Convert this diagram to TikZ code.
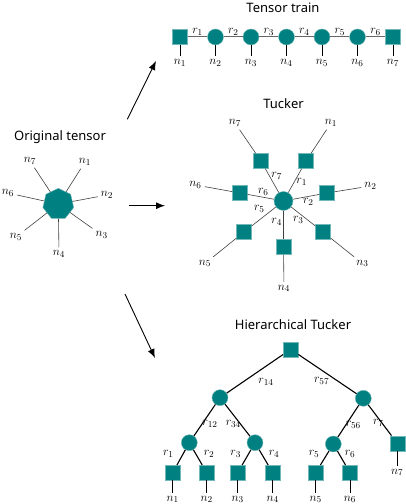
\documentclass[tikz,border=0pt]{standalone}
\usepackage{fontspec}
\setsansfont{Noto Sans}
\usetikzlibrary{arrows.meta,shapes.geometric}

\tikzset{
	ttl/.style={font=\sffamily\fontsize{13}{15}\selectfont, inner sep=0pt},
	lbl/.style={font=\fontsize{13}{15}\selectfont, inner sep=1pt},
	leglbl/.style={font=\fontsize{13}{15}\selectfont, inner sep=3pt},
	tsq/.style={shape=rectangle, fill=teal, draw=teal!55, line width=0.4pt, minimum size=15pt, inner sep=0pt},
	tcirc/.style={shape=circle, fill=teal, draw=teal!55, line width=0.4pt, minimum size=16pt, inner sep=0pt},
	bigcore/.style={shape=circle, fill=teal, draw=teal!55, line width=0.4pt, minimum size=19pt, inner sep=0pt},
	hept/.style={shape=regular polygon, regular polygon sides=7, fill=teal, draw=teal!55, line width=0.4pt, minimum size=31.6pt, inner sep=0pt},
	chain/.style={draw=black!60, line width=1pt},
	leg/.style={draw=black, line width=1pt},
	thinleg/.style={draw=black!75, line width=0.6pt},
	branch/.style={draw=black, line width=1.1pt},
	bigarrow/.style={draw=black, line width=0.9pt, -{Latex[length=9pt,width=7pt]}}
}

\begin{document}
\begin{tikzpicture}[x=1pt, y=1pt]
	\useasboundingbox (0,0) rectangle (406,504);

	% titles
	\node (ttt)[ttl] at (283,496){Tensor train};
	\node (tot)[ttl] at (60,367){Original tensor};
	\node (ttu)[ttl] at (283.5,400.5){Tucker};
	\node (tht)[ttl] at (293,179){Hierarchical Tucker};

	% arrows
	\coordinate (a1s) at (127.3,384.7);
	\coordinate (a1e) at (156,443);
	\coordinate (a2s) at (129.3,298.3);
	\coordinate (a2e) at (165,298.3);
	\coordinate (a3s) at (125,210);
	\coordinate (a3e) at (155,146);
	\draw[bigarrow] (a1s) -- (a1e);
	\draw[bigarrow] (a2s) -- (a2e);
	\draw[bigarrow] (a3s) -- (a3e);

	% original tensor
	\node (oc)[hept] at (58.3,299.9){};
	\node (on1)[leglbl] at (85,342){$n_1$};
	\node (on2)[leglbl] at (107,309){$n_2$};
	\node (on3)[leglbl] at (101.7,269){$n_3$};
	\node (on4)[leglbl] at (59,250){$n_4$};
	\node (on5)[leglbl] at (16,267){$n_5$};
	\node (on6)[leglbl] at (8,311){$n_6$};
	\node (on7)[leglbl] at (30,343){$n_7$};
	\path[thinleg] (oc) edge (on1);
	\path[thinleg] (oc) edge (on2);
	\path[thinleg] (oc) edge (on3);
	\path[thinleg] (oc) edge (on4);
	\path[thinleg] (oc) edge (on5);
	\path[thinleg] (oc) edge (on6);
	\path[thinleg] (oc) edge (on7);

	% tensor train
	\node (t1)[tsq] at (180,467){};
	\node (t2)[tcirc] at (215.5,467){};
	\node (t3)[tcirc] at (251,467){};
	\node (t4)[tcirc] at (286.5,467){};
	\node (t5)[tcirc] at (322,467){};
	\node (t6)[tcirc] at (357.5,467){};
	\node (t7)[tsq] at (393,467){};
	\path[chain] (t1) edge node[above, lbl]{$r_1$} (t2);
	\path[chain] (t2) edge node[above, lbl]{$r_2$} (t3);
	\path[chain] (t3) edge node[above, lbl]{$r_3$} (t4);
	\path[chain] (t4) edge node[above, lbl]{$r_4$} (t5);
	\path[chain] (t5) edge node[above, lbl]{$r_5$} (t6);
	\path[chain] (t6) edge node[above, lbl]{$r_6$} (t7);
	\node (tn1)[leglbl] at (180,441){$n_1$};
	\node (tn2)[leglbl] at (215.5,441){$n_2$};
	\node (tn3)[leglbl] at (251,441){$n_3$};
	\node (tn4)[leglbl] at (286.5,441){$n_4$};
	\node (tn5)[leglbl] at (322,441){$n_5$};
	\node (tn6)[leglbl] at (357.5,441){$n_6$};
	\node (tn7)[leglbl] at (393,441){$n_7$};
	\path[leg] (t1) edge (tn1);
	\path[leg] (t2) edge (tn2);
	\path[leg] (t3) edge (tn3);
	\path[leg] (t4) edge (tn4);
	\path[leg] (t5) edge (tn5);
	\path[leg] (t6) edge (tn6);
	\path[leg] (t7) edge (tn7);

	% tucker
	\node (uc)[bigcore] at (283.5,303){};
	\node (us1)[tsq] at (306,343){};
	\node (us2)[tsq] at (327,311){};
	\node (us3)[tsq] at (323,272){};
	\node (us4)[tsq] at (283.5,257){};
	\node (us5)[tsq] at (244,272){};
	\node (us6)[tsq] at (240,311){};
	\node (us7)[tsq] at (261,343){};
	\node (un1)[leglbl] at (331,381){$n_1$};
	\node (un2)[leglbl] at (370.5,318){$n_2$};
	\node (un3)[leglbl] at (362.5,240.5){$n_3$};
	\node (un4)[leglbl] at (284,215.5){$n_4$};
	\node (un5)[leglbl] at (205,240.5){$n_5$};
	\node (un6)[leglbl] at (195.5,319){$n_6$};
	\node (un7)[leglbl] at (235,381){$n_7$};
	\node (ur1)[lbl] at (301.7,321.7){$r_1$};
	\node (ur2)[lbl] at (308.3,301.7){$r_2$};
	\node (ur3)[lbl] at (298.3,284){$r_3$};
	\node (ur4)[lbl] at (276.7,282.3){$r_4$};
	\node (ur5)[lbl] at (259.3,294.7){$r_5$};
	\node (ur6)[lbl] at (263.3,312.3){$r_6$};
	\node (ur7)[lbl] at (276.7,328){$r_7$};
	\path[thinleg] (uc) edge (us1) (us1) edge (un1);
	\path[thinleg] (uc) edge (us2) (us2) edge (un2);
	\path[thinleg] (uc) edge (us3) (us3) edge (un3);
	\path[thinleg] (uc) edge (us4) (us4) edge (un4);
	\path[thinleg] (uc) edge (us5) (us5) edge (un5);
	\path[thinleg] (uc) edge (us6) (us6) edge (un6);
	\path[thinleg] (uc) edge (us7) (us7) edge (un7);

	% hierarchical tucker
	\node (hr)[tsq] at (290.7,154.7){};
	\node (hc14)[tcirc] at (220,106.3){};
	\node (hc57)[tcirc] at (363.3,105.7){};
	\node (hc12)[tcirc] at (189.3,61.3){};
	\node (hc34)[tcirc] at (255,61.3){};
	\node (hc56)[tcirc] at (333.3,60){};
	\node (hs7)[tsq] at (397.3,60.7){};
	\node (hs1)[tsq] at (172.7,31.3){};
	\node (hs2)[tsq] at (206.7,31.3){};
	\node (hs3)[tsq] at (237.7,31.3){};
	\node (hs4)[tsq] at (272.7,31.3){};
	\node (hs5)[tsq] at (315.7,31.3){};
	\node (hs6)[tsq] at (350,31.3){};
	\node (hn1)[leglbl] at (172.7,4.5){$n_1$};
	\node (hn2)[leglbl] at (206.7,4.5){$n_2$};
	\node (hn3)[leglbl] at (237.7,4.5){$n_3$};
	\node (hn4)[leglbl] at (272.7,4.5){$n_4$};
	\node (hn5)[leglbl] at (315.7,4.5){$n_5$};
	\node (hn6)[leglbl] at (350,4.5){$n_6$};
	\node (hn7)[leglbl] at (397.3,31.5){$n_7$};
	\node (hr14)[lbl] at (266,122.3){$r_{14}$};
	\node (hr57)[lbl] at (321.7,123){$r_{57}$};
	\node (hr12)[lbl] at (210,79.7){$r_{12}$};
	\node (hr34)[lbl] at (233.3,79.7){$r_{34}$};
	\node (hr56)[lbl] at (353.3,79){$r_{56}$};
	\node (hr7)[lbl] at (378.3,80.7){$r_7$};
	\node (hr1)[lbl] at (168.3,49.7){$r_1$};
	\node (hr2)[lbl] at (209,49.7){$r_2$};
	\node (hr3)[lbl] at (235.7,50){$r_3$};
	\node (hr4)[lbl] at (274,50){$r_4$};
	\node (hr5)[lbl] at (314,50){$r_5$};
	\node (hr6)[lbl] at (350,50){$r_6$};
	\path[branch] (hr) edge (hc14);
	\path[branch] (hr) edge (hc57);
	\path[branch] (hc14) edge (hc12);
	\path[branch] (hc14) edge (hc34);
	\path[branch] (hc57) edge (hc56);
	\path[branch] (hc57) edge (hs7);
	\path[branch] (hc12) edge (hs1);
	\path[branch] (hc12) edge (hs2);
	\path[branch] (hc34) edge (hs3);
	\path[branch] (hc34) edge (hs4);
	\path[branch] (hc56) edge (hs5);
	\path[branch] (hc56) edge (hs6);
	\path[leg] (hs1) edge (hn1);
	\path[leg] (hs2) edge (hn2);
	\path[leg] (hs3) edge (hn3);
	\path[leg] (hs4) edge (hn4);
	\path[leg] (hs5) edge (hn5);
	\path[leg] (hs6) edge (hn6);
	\path[leg] (hs7) edge (hn7);
\end{tikzpicture}
\end{document}
